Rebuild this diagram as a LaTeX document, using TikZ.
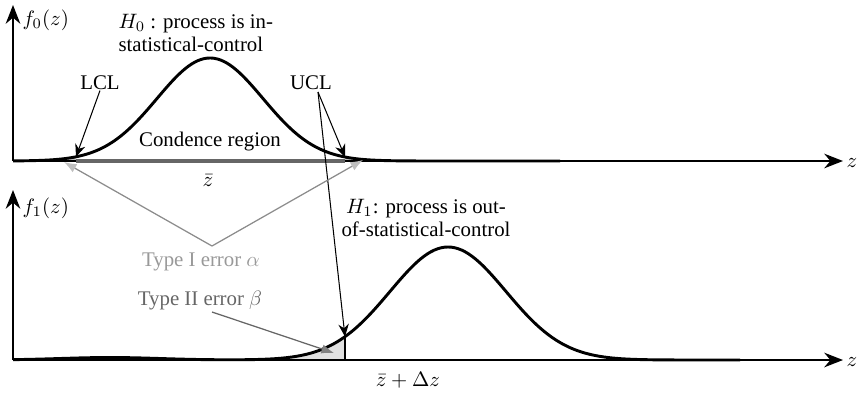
\documentclass[tikz,border=0pt]{standalone}
\usepackage{fontspec}
\setmainfont{Liberation Serif}
\usetikzlibrary{arrows.meta}
\begin{document}
\begin{tikzpicture}[x=0.48pt,y=-0.48pt,
  declare function={
    ga(\x)=((\x-210)/53)*((\x-210)/53);
    fa(\x)=161-103*exp(-0.5*ga(\x));
    gb(\x)=((\x-448)/58)*((\x-448)/58);
    hb(\x)=((\x-110)/70)*((\x-110)/70);
    fb(\x)=360-113*exp(-0.5*gb(\x))-2.5*exp(-hb(\x));},
  axis/.style={line width=0.9pt,-{Stealth[length=9pt,width=7pt]}},
  curve/.style={line width=1.4pt,line join=round},
  lbl/.style={font=\fontsize{10}{11}\selectfont,inner sep=1pt},
  blackarrow/.style={line width=0.5pt,-{Stealth[length=6pt,width=5pt]}},
  grayarrow/.style={draw=black!45,line width=0.6pt,-{Latex[length=6pt,width=4.5pt,color=black!25]}},
]
\useasboundingbox (0,0) rectangle (857,392);

% ---- coordinates
\coordinate (o0) at (13,161);
\coordinate (y0) at (13,5);
\coordinate (x0) at (843,161);
\coordinate (o1) at (13,360);
\coordinate (y1) at (13,190);
\coordinate (x1) at (843,360);
\coordinate (lclpt) at (76,{fa(76)});
\coordinate (uclpt) at (345,{fa(345)});
\coordinate (uclpt1) at (345,{fb(345)});
\coordinate (uclfoot) at (345,360);
\coordinate (tipL) at (64,162);
\coordinate (tipR) at (363,160);
\coordinate (tipB) at (334,353);
\coordinate (typeIv) at (212,246);
\coordinate (typeIIs) at (212,312);
\coordinate (uclsrc) at (318,92);

% ---- fills
\fill[black!25] plot[domain=55:76,samples=20] (\x,{fa(\x)}) -- (76,161) -- (55,161) -- cycle;
\fill[black!25] (345,161) -- plot[domain=345:366,samples=20] (\x,{fa(\x)}) -- (366,161) -- cycle;
\fill[black!12] (285,360) -- plot[domain=285:345,samples=30] (\x,{fb(\x)}) -- (345,360) -- cycle;

% ---- axes
\draw[axis] (o0) -- (y0);
\draw[axis] (o0) -- (x0);
\draw[axis] (o1) -- (y1);
\draw[axis] (o1) -- (x1);
\node[lbl,anchor=west] (f0) at (20,20) {$f_0(z)$};
\node[lbl,anchor=west] (f1) at (20,208) {$f_1(z)$};
\node[lbl] (z0) at (852,163) {$z$};
\node[lbl] (z1) at (852,362) {$z$};

% ---- confidence bar
\draw[line width=2.2pt,black!60] (lclpt |- o0) -- (uclpt |- o0);

% ---- curves
\draw[curve] plot[domain=13:520,samples=160] (\x,{fa(\x)}) -- (560,161);
\draw[curve] plot[domain=13:700,samples=200] (\x,{fb(\x)}) -- (740,360);
\draw[line width=0.8pt] (uclpt1) -- (uclfoot);

% ---- labels
\node[lbl,anchor=west,align=left] (h0) at (116,33) {$H_0$ : process is in-\\statistical-control};
\node[lbl] (lcl) at (100,83) {LCL};
\node[lbl] (ucl) at (311,83) {UCL};
\node[lbl] (conf) at (210,142) {Condence region};
\node[lbl] (zbar) at (208,181) {$\bar{z}$};
\node[lbl,align=center] (h1) at (426,218) {$H_1$: process is out-\\of-statistical-control};
\node[lbl,text=black!40] (t1) at (201,262) {Type I error $\alpha$};
\node[lbl,text=black!60] (t2) at (200,300) {Type II error $\beta$};
\node[lbl] (zd) at (408,380) {$\bar{z}+\Delta z$};

% ---- arrows
\draw[blackarrow] (lcl.south) ++(0,-2) -- (lclpt);
\draw[blackarrow] (uclsrc) -- (uclpt);
\draw[blackarrow] (uclsrc) -- (uclpt1);
\draw[grayarrow] (typeIv) -- (tipL);
\draw[grayarrow] (typeIv) -- (tipR);
\draw[draw=black!60,line width=0.6pt,-{Latex[length=6pt,width=4.5pt,color=black!50]}] (typeIIs) -- (tipB);
\end{tikzpicture}
\end{document}
